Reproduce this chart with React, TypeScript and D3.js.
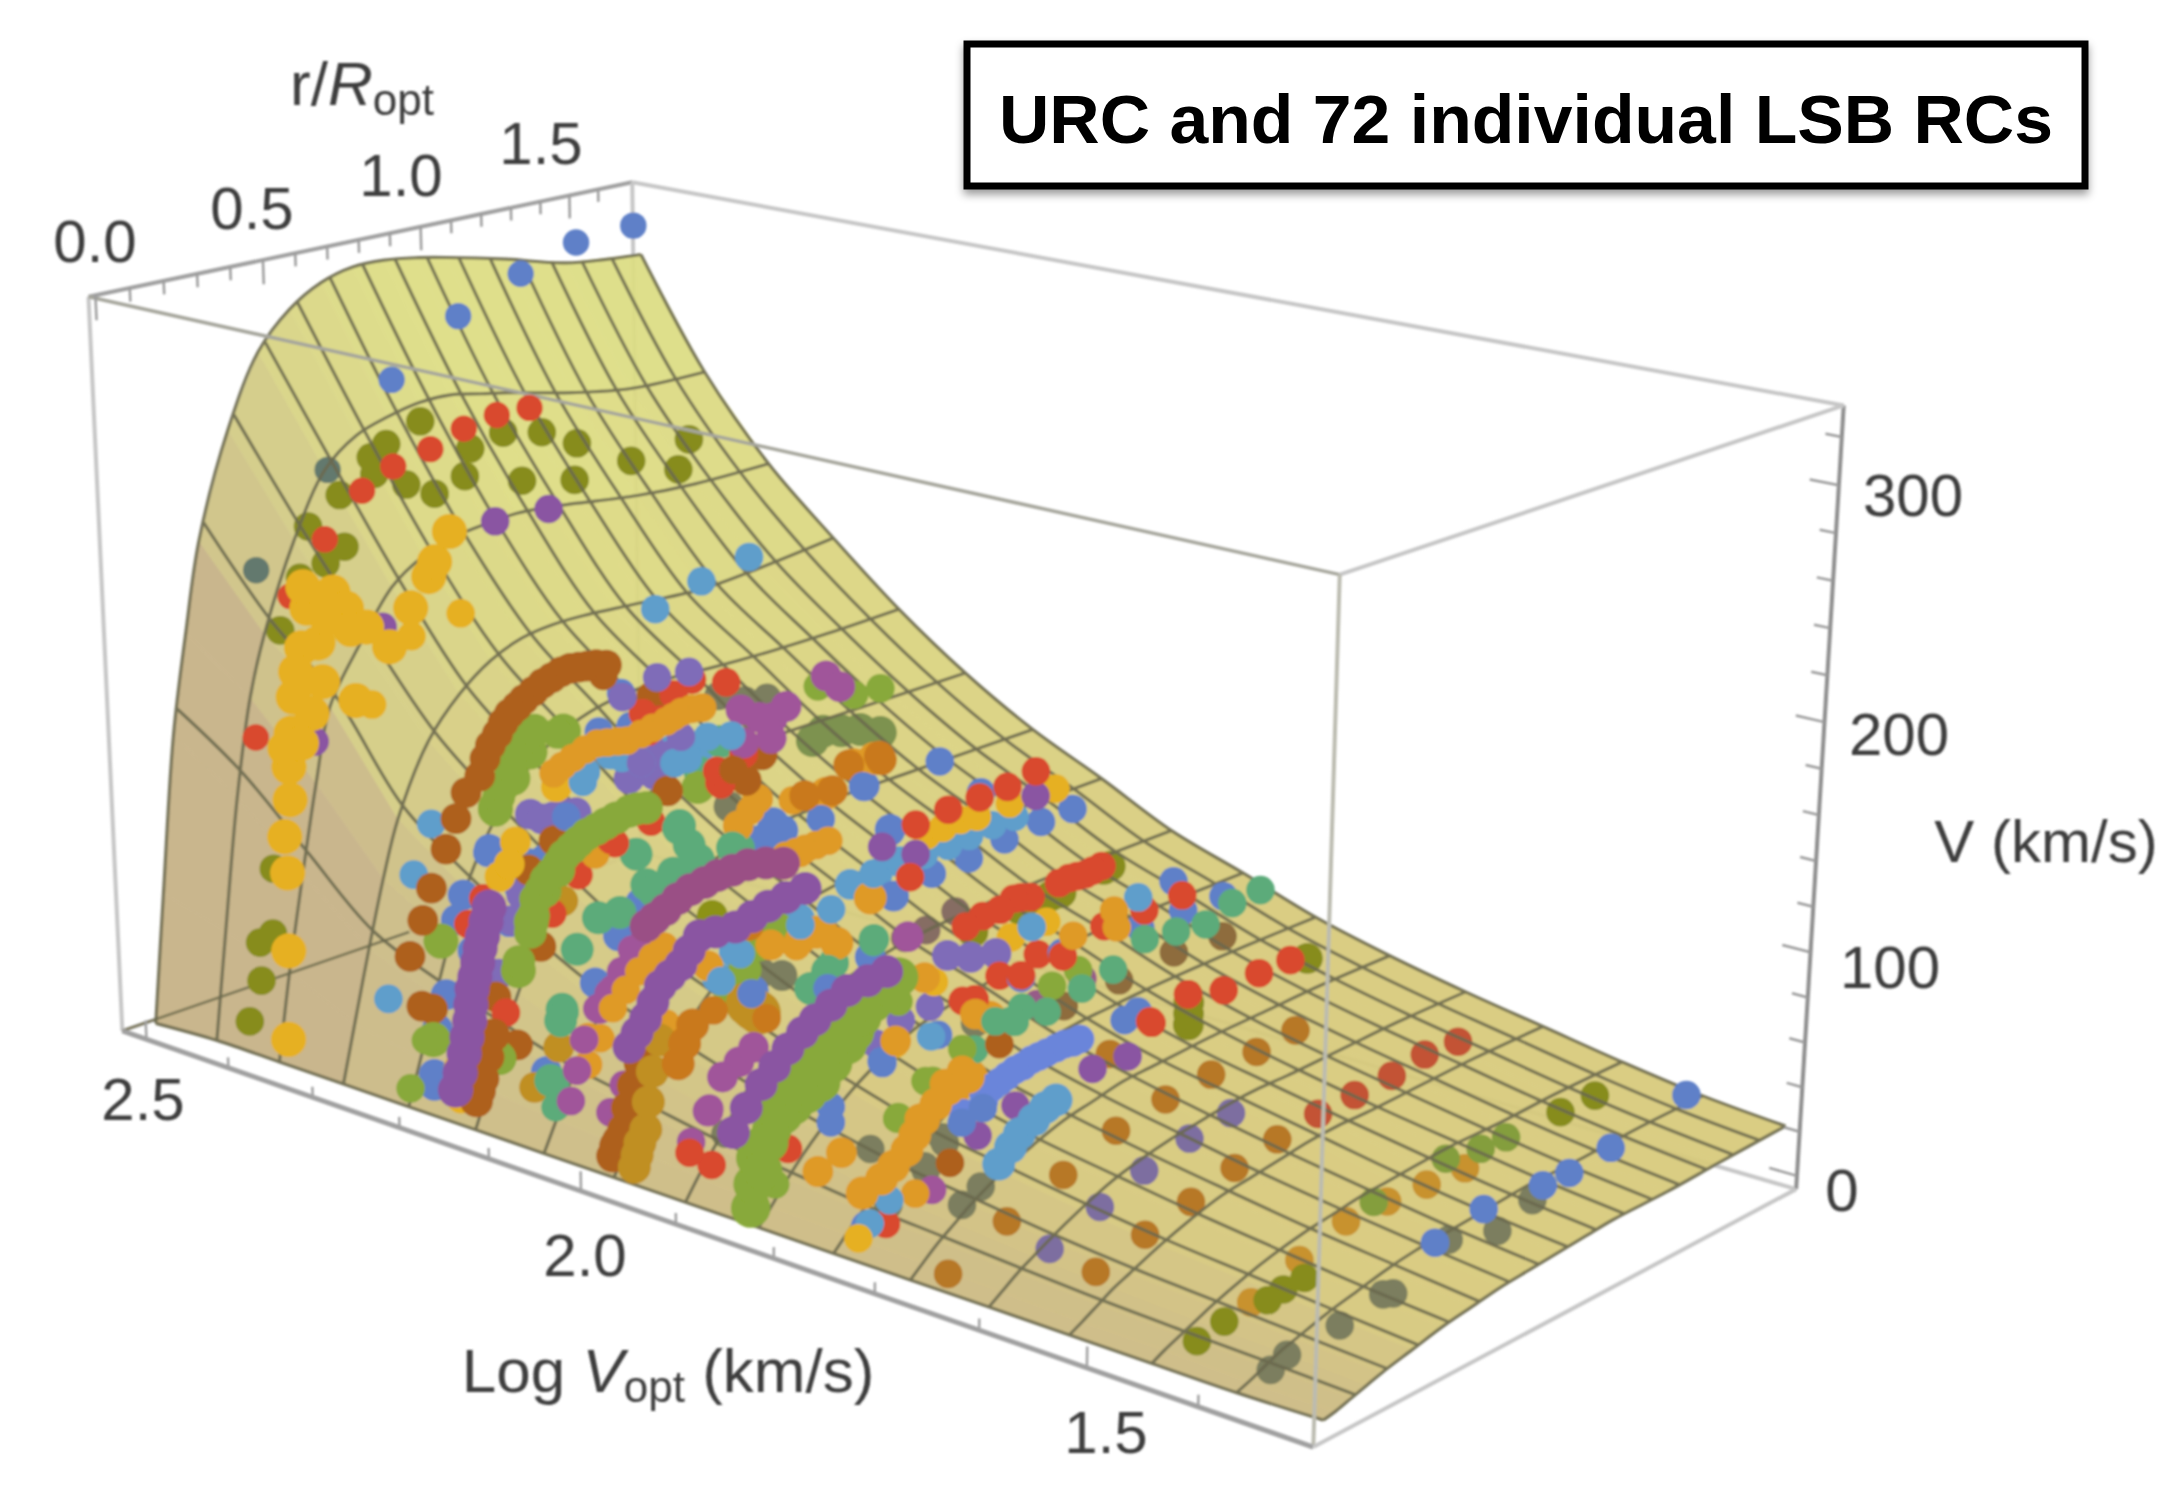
import React from "react";
import * as d3 from "d3";

const corners = [
  [0, 0, 1, 88, 299], [0, 1, 1, 633, 181], [1, 0, 1, 1339, 573], [1, 1, 1, 1844, 406],
  [0, 0, 0, 122, 1030], [1, 0, 0, 1315, 1447], [1, 1, 0, 1795, 1190],
];
function solve(A: number[][], b: number[]) {
  const n = b.length; const M = A.map((r, i) => [...r, b[i]]);
  for (let i = 0; i < n; i++) {
    let p = i; for (let j = i + 1; j < n; j++) if (Math.abs(M[j][i]) > Math.abs(M[p][i])) p = j;
    [M[i], M[p]] = [M[p], M[i]];
    for (let j = 0; j < n; j++) if (j !== i) { const f = M[j][i] / M[i][i]; for (let k = i; k <= n; k++) M[j][k] -= f * M[i][k]; }
  }
  return M.map((r, i) => r[n] / r[i]);
}
function fit() {
  const rows: number[][] = [], rhs: number[] = [];
  corners.forEach(([X, Y, Z, u0, v0]) => {
    const u = u0 / 1000, v = v0 / 1000;
    rows.push([X, Y, Z, 1, 0, 0, 0, 0, -u * X, -u * Y, -u * Z]); rhs.push(u);
    rows.push([0, 0, 0, 0, X, Y, Z, 1, -v * X, -v * Y, -v * Z]); rhs.push(v);
  });
  const N = 11; const A = d3.range(N).map(i => d3.range(N).map(j => d3.sum(rows, r => r[i] * r[j])));
  const b = d3.range(N).map(i => d3.sum(rows, (r, k) => r[i] * rhs[k]));
  return solve(A, b);
}
const P = fit();
const xS = d3.scaleLinear().domain([2.53, 1.30]).range([0, 1]);
const yS = d3.scaleLinear().domain([-0.02, 1.72]).range([0, 1]);
const zS = d3.scaleLinear().domain([-6, 333]).range([0, 1]);
function proj(l: number, r: number, V: number): [number, number] {
  const X = xS(l), Y = yS(r), Z = zS(V);
  const w = P[8] * X + P[9] * Y + P[10] * Z + 1;
  return [1000 * (P[0] * X + P[1] * Y + P[2] * Z + P[3]) / w, 1000 * (P[4] * X + P[5] * Y + P[6] * Z + P[7]) / w];
}
const calA = d3.scaleLinear().domain([1.375, 1.7, 1.75, 1.85, 2.0, 2.1, 2.17, 2.23, 2.35, 2.46]).range([0.035, 0.05, 0.06, 0.08, 0.2, 0.2, 0.15, 0.11, 0.02, 0.005]);
const calB = d3.scaleLinear().domain([1.375, 1.7, 1.75, 1.85, 2.0, 2.1, 2.17, 2.23, 2.35, 2.46]).range([6, 7, 9, 12, 0, 0, 5, 10, 0, 10]);

const surfLogV = [2.5, 2.425, 2.35, 2.275, 2.2, 2.125, 2.05, 1.975, 1.9, 1.825, 1.75, 1.675, 1.6, 1.525, 1.45, 1.375, 1.3];
const surfR = [0.01, 0.05, 0.1, 0.15, 0.2, 0.3, 0.4, 0.5, 0.6, 0.7, 0.8, 0.9, 1.0, 1.2, 1.4, 1.66];
const surfV = [
  [0, 60, 132, 178, 218, 265, 297, 313, 322, 326, 326, 324, 321, 314, 306, 302],
  [2, 52, 112, 156, 183, 222, 250, 262, 267, 270, 270, 267, 264, 257, 252, 251],
  [2, 42, 85, 125, 158, 183, 204, 214, 219, 221, 222, 221, 219, 215, 213, 213],
  [2, 28, 60, 90, 115, 146, 163, 174, 180, 182, 182, 181, 180, 178, 180, 184],
  [2, 22, 48, 72, 92, 120, 137, 148, 154, 157, 158, 158, 157, 156, 156, 157],
  [2, 18, 39, 57, 73, 98, 113, 123, 128, 132, 133, 134, 134, 134, 134, 134],
  [2, 15, 31, 45, 58, 79, 93, 103, 108, 111, 113, 114, 115, 115, 115, 115],
  [2, 13, 26, 38, 49, 66, 79, 87, 92, 95, 97, 98, 99, 100, 100, 100],
  [2, 11, 21, 31, 40, 54, 65, 72, 76, 79, 81, 82, 83, 84, 84, 84],
  [2, 9, 18, 26, 33, 45, 54, 61, 65, 68, 70, 71, 72, 73, 73, 73],
  [2, 8, 15, 21, 27, 36, 44, 49, 53, 56, 58, 59, 60, 61, 61.5, 61.5],
  [2, 7, 13, 18, 23, 31, 37, 42, 45, 48, 49, 50, 51, 52, 53, 53],
  [2, 6, 11, 15, 19, 26, 32, 36, 39, 41, 43, 44, 44, 45, 46, 46],
  [2, 5, 9, 13, 16, 22, 27, 31, 33, 35, 37, 38, 38, 39, 40, 40],
  [2, 5, 8, 11, 14, 19, 23, 26, 28, 30, 31, 32, 33, 33, 34, 34],
  [2, 4, 7, 10, 12, 16, 19, 22, 24, 25, 26, 27, 28, 28, 29, 29],
  [3, 4, 6, 8, 10, 13, 16, 18, 20, 21, 22, 23, 24, 24, 25, 26],
];

const BLUE = "#5f80c8", PERI = "#6a85da", SKY = "#5e9ecb", ORANGE = "#df9a26", GREEN = "#88a93a", RED = "#d9482e", DKOR = "#c9791c", YELLOW = "#e6b020", PURPLE = "#8a55a2", RASP = "#9a5085", MAGENTA = "#a0559a", VIOLET = "#7f6cb8", TEAL = "#5bab7a", OLIVE = "#8c9212", BROWN = "#ae601c", GREY = "#7c8064", MUSTARD = "#c08f24";

const topBlueR = [0.27, 0.5, 0.71, 0.93, 1.14, 1.33, 1.53], topBlueV = [203, 238, 270, 290, 301, 308, 308];
const oliveLowR = [0.05, 0.09, 0.09, 0.13, 0.14, 0.185, 0.25, 0.33, 0.28, 0.39, 0.38, 0.48, 0.49, 0.53, 0.59, 0.68, 0.64], oliveLowV = [12, 29, 47, 49, 79, 187, 208, 211, 230, 216, 240, 253, 245, 257, 236, 228, 263];
const oliveHighR = [0.8, 0.78, 0.91, 1.04, 1.16, 0.97, 1.15, 1.35, 1.56, 1.52], oliveHighV = [244, 232, 247, 242, 232, 222, 215, 216, 218, 205];
const redTopR = [0.1, 0.22, 0.33, 0.45, 0.55, 0.67, 0.78, 0.89, 1.0], redTopV = [142, 201, 222, 239, 246, 249, 254, 256, 255];
const goldR = [0.04, 0.05, 0.055, 0.05, 0.07, 0.07, 0.06, 0.08, 0.09, 0.12, 0.14, 0.22, 0.32, 0.39, 0.46, 0.52, 0.54, 0.59, 0.28, 0.17, 0.2, 0.18, 0.145, 0.11, 0.26, 0.27, 0.13, 0.1];
const goldV = [11, 52, 88, 105, 121, 136, 145, 151, 167, 188, 205, 209, 189, 177, 192, 204, 210, 222, 157, 188, 198, 170, 157, 145, 200, 190, 215, 178];
const goldDimR = [0.62, 0.46, 0.33], goldDimV = [183, 179, 153];
const purpleTopR = [0.92, 0.74, 0.37, 0.15], purpleTopV = [220, 221, 187, 144];
const skyTopR = [0.93, 1.14, 1.38], skyTopV = [185, 190, 193];
const skyLowR = [0.09, 0.18, 0.24], skyLowV = [40, 92, 112];
const brownR = [0.14, 0.107, 0.15, 0.18, 0.23, 0.265, 0.3, 0.347, 0.366, 0.385, 0.41, 0.43, 0.453, 0.48, 0.505, 0.54, 0.573, 0.607, 0.641, 0.675, 0.708, 0.74, 0.776, 0.816];
const brownV = [36, 61, 75, 88, 103, 115, 125, 130, 137, 142, 146, 150, 153, 155, 157, 159, 161, 162, 163, 163, 162, 161, 160, 158];

const tealLeftR = [0.5, 0.44, 0.434, 0.394], tealLeftV = [52, 27, 22, -4];
const greenLeftR = [0.463, 0.343, 0.283, 0.223, 0.433, 0.383, 0.336, 0.288, 0.041, 0.212, 0.01], greenLeftV = [154, 150, 141, 130, 92, 85, 73, 53, 80, 17, 37];
const blueLeftR = [0.2, 0.113, 0.09, 0.053, 0.023, 0.01, 0.01, 0.379, 0.14, 0.17, 0.3, 0.33], blueLeftV = [113, 97, 87, 55, 41, 21, 16, 1, 70, 60, 90, 100];
const violetLeftR = [0.472, 0.505, 0.34, 0.305, 0.269, 0.22, 0.38, 0.42], violetLeftV = [116, 115, 122, 87, 77, 55, 118, 117];
const brownLeftR = [0.531, 0.422, 0.331, 0.368, 0.28, 0.211, 0.01], brownLeftV = [137, 106, 97, 60, 19, 45, 51];
const mustardLeftR = [0.45, 0.336, 0.425], mustardLeftV = [77, -4, 10];
const yellowLeftR = [0.434, 0.287, 0.233, 0.265, 0.112, 0.086], yellowLeftV = [130, 112, 99, 103, 30, 19];
const redLeftR = [0.51, 0.411, 0.243, 0.177, 0.127], redLeftV = [86, 73, 36, 92, 83];
const orangeLeftR = [0.537, 0.584, 0.534], orangeLeftV = [9, 6, -4];

const sky2R = [0.092, 0.15, 0.013, 0.286, 0.34, 0.408, 0.524, 0.456, 0.816], sky2V = [181, 179, 177, 174, 175, 172, 75, 66, 79];
const sky185R = [0.39, 0.483, 0.562], sky185V = [124, 123, 124];
const violet2R = [0.217, 0.234, 0.15, 0.28], violet2V = [179, 166, 168, 172];
const blue2R = [0.109, 0.183, 0.034, 0.694, 0.67, 0.578, 0.738, 0.602], blue2V = [101, 112, 84, 127, 122, 124, 122, 54];
const blue185bR = [0.459, 0.541, 0.528, 0.438], blue185bV = [88, 110, 140, 164];
const teal2bR = [0.476, 0.398, 0.32, 0.354, 0.388, 0.17, 0.296, 0.204, 0.228, 0.115, 0.047, 0.544], teal2bV = [171, 160, 140, 130, 122, 134, 120, 119, 115, 111, 112, 121];
const teal185R = [0.472, 0.334], teal185V = [95, 93];
const green2R = [0.626, 0.568, 0.714, 0.507, 0.388], green2V = [74, 65, 78, 56, 154];
const green185R = [0.403, 0.493, 0.283], green185V = [205, 203, 215];
const orange2R = [0.42, 0.626, 0.544, 0.68, 0.816], orange2V = [73, 140, 131, 72, 69];
const orange185R = [0.472, 0.403, 0.31, 0.459, 0.345, 0.276], orange185V = [174, 175, 168, 114, 101, 110];
const brown2R = [0.578, 0.279, 0.646, 0.585, 0.228], brown2V = [150, 157, 159, 85, 200];
const mustard2R = [0.626, 0.578, 0.6], mustard2V = [43, 49, 46];
const red2R = [0.255, 0.37, 0.476, 0.568, 0.102, 0.221], red2V = [189, 202, 152, 162, 142, 146];
const magenta2R = [0.558, 0.694, 0.636, 0.687, 0.568, 0.755, 0.187, 0.143, 0.092, 0.047, 0.415, 0.473, 0.54, 0.602], magenta2V = [182, 174, 176, 165, 167, 177, 93, 85, 78, 72, 7, 20, 24, 28];
const magenta185R = [0.31, 0.355, 0.593], magenta185V = [218, 211, 89];
const grey2R = [0.636, 0.731, 0.507], grey2V = [61, 56, 141];
const olive2R = [0.438], olive2V = [95];

const orange175R = [0.406, 0.459, 0.353, 0.523], orange175V = [48, 50, 48, 72];
const green175R = [0.329, 0.212], green175V = [56, 47];
const teal175R = [0.47, 0.594], teal175V = [61, 66];
const brown175R = [0.558, 0.389], brown175V = [58, 16];
const peri175R = [0.505, 0.435], peri175V = [36, 35];
const purple175R = [0.618, 0.484], purple175V = [27, 22];
const violet175R = [0.318, 0.223, 0.141], violet175V = [89, 89, 84];
const blue175R = [0.346], blue175V = [75];
const yellow175R = [0.205], yellow175V = [80];
const red175R = [0.47], red175V = [83];
const grey175R = [0.371, 0.307, 0.184], grey175V = [26, 18, 11];

const blueLeft0R = [0.28, 0.35, 0.474, 0.39], blueLeft0V = [103, 67, 90, 90];
const teal1R = [0.316, 0.52, 0.96, 0.87], teal1V = [139, 122, 50, 45];
const teal2R = [0.38, 0.325, 0.287, 0.287], teal2V = [64, 38, 6, -4];
const magentaLowR = [0.394, 0.366, 0.342, 0.445, 0.49, 0.54, 0.585], magentaLowV = [22, 9, -4, 34, 39, 47, 55];
const magentaMidR = [0.119, 0.075, 0.42, 0.47, 0.35], magentaMidV = [34, 24, 8, 20, -4];
const orangeFillR = [0.8, 0.265, 0.595, 0.785, 0.82, 0.94, 0.04], orangeFillV = [67, 54, 136, 134, 109, 69, 140];
const orangeUpR = [0.21, 0.24, 0.277, 0.32, 0.363, 0.4, 0.44, 0.476, 0.53, 0.58, 0.637, 0.67, 0.705, 0.75, 0.8], orangeUpV = [156, 158, 160, 162, 163, 162, 161, 160, 161, 162, 163, 164, 165, 165, 164];
const dkFillR = [0.585, 0.66, 0.44], dkFillV = [84, 39, 52];
const skyMidR = [0.98, 0.82, 0.55, 0.47], skyMidV = [78, 76, 73, 64];
const skyUpR = [0.31, 0.455, 0.53, 0.67, 0.73, 0.825, 0.945], skyUpV = [148, 153, 148, 143, 143, 150, 147];
const blueUpR = [0.37, 0.49, 0.455, 0.25], blueUpV = [168, 166, 182, 135];
const blueMidR = [0.925, 0.595, 0.96], blueMidV = [121, 53, 42];
const blue185R = [0.5, 0.324, 0.324], blue185V = [39, 30, 23];
const greenUpR = [0.225, 0.1], greenUpV = [173, 175];
const g1R = [0.22, 0.235, 0.25, 0.275, 0.3, 0.33, 0.36, 0.29, 0.22], g1V = [131, 135, 139, 147, 154, 157, 159, 57, 16];
const redMidR = [0.47, 0.09], redMidV = [153, 144];
const redUpR = [0.56, 0.54, 0.67, 0.87, 0.92], redUpV = [161, 170, 174, 133, 172];
const violetUpR = [0.6, 0.74, 0.46, 0.7, 0.53], violetUpV = [184, 182, 180, 154, 148];
const mutedGreenR = [0.424, 0.3, 0.493, 0.265, 0.36], mutedGreenV = [189, 195, 184, 193, 192];
const darkGreyR = [0.88, 1.02, 1.15], darkGreyV = [167, 161, 159];
const brownUpR = [0.39, 0.955], brownUpV = [192, 131];
const dkUp185R = [0.49, 0.385, 0.497, 0.24, 0.33], dkUp185V = [174, 176, 172, 171, 168];
const blueUp185R = [0.434, 0.707], blueUp185V = [164, 160];
const redUpper185R = [0.62, 0.74, 0.86, 0.97, 1.086, 0.6], redUpper185V = [137, 137, 136, 135, 136, 115];
const blueArc185R = [0.53, 0.68, 0.82, 0.96, 1.11, 1.245, 0.865], blueArc185V = [139, 112, 111, 112, 112, 111, 138];
const purple185R = [0.5, 1.086, 0.62], purple185V = [134, 125, 124];
const skyBand185R = [0.47, 0.565, 0.65, 0.74, 0.82, 0.91, 1.0], skyBand185V = [124, 124, 122, 121, 121, 121, 120];
const yellowBand185R = [0.66, 0.72, 0.786, 0.85, 0.98, 1.17], yellowBand185V = [130, 130, 130, 128, 127, 124];
const redRowR = [1.38, 1.34, 1.307, 1.27, 1.234, 1.19, 1.07, 1.03, 1.0, 0.945, 0.876, 0.81], redRowV = [78, 78, 78, 79, 80, 80, 80, 82, 83, 81, 82, 81];
const oliveRowR = [1.42, 1.39, 1.2, 1.155, 1.11, 1.024, 0.838], oliveRowV = [76, 76, 75, 76, 75, 77, 77];
const greyMagentaR = [0.77, 0.583, 0.66], greyMagentaV = [90, 89, 88];
const yellowLowR = [1.138, 0.99, 0.69], yellowLowV = [65, 66, 63];
const purpleRowR = [0.74, 0.83, 0.93], purpleRowV = [72, 66, 62];
const redLow185R = [1.103, 0.945, 0.8], redLow185V = [52, 51, 48];
const blueLow185R = [1.207, 1.034, 0.503], blueLow185V = [47, 45, 38];
const greenLow185R = [1.28, 1.166, 0.8, 0.56, 0.56, 0.66, 0.14], greenLow185V = [35, 34, 26, 62, 10, 20, 8];
const orangeLow185R = [0.85, 0.655, 0.734, 0.8, 0.64, 0.55, 0.28, 0.36], orangeLow185V = [39, 67, 14, 16, 4, 45, 4, 7];
const tealLow185R = [0.47, 0.93, 1.04], tealLow185V = [94, 31, 31];
const magentaLow185R = [1.103, 1.3], magentaLow185V = [29, 30];
const skyLow185R = [0.68, 1.076], skyLow185V = [39, 66];
const greyLow185R = [0.655, 0.29, 0.538, 0.476], greyLow185V = [54, 21, 10, 1];

const blue17R = [1.0, 1.2, 1.04, 0.876, 0.823, 0.873], blue17V = [113, 96, 98, 99, 61, 62];
const green17R = [1.237, 1.13, 1.014, 0.894, 0.777, 0.664, 0.54, 0.43], green17V = [91, 87, 90, 93, 86, 84, 81, 83];
const teal17R = [1.353], teal17V = [91];
const red17R = [1.035, 0.89, 0.742, 0.594, 0.45, 0.926], red17V = [105, 106, 107, 102, 102, 54];
const brownish17R = [1.2, 1.007, 0.8, 0.6], brownish17V = [78, 81, 80, 80];
const sky17R = [0.866], sky17V = [113];
const orange17R = [0.788, 0.777, 0.63], orange17V = [104, 112, 109];
const oliveCapR = [1.07, 1.07, 1.07, 1.565], oliveCapV = [55, 45, 50, 49];
const dk17R = [1.067, 0.77], dk17V = [59, 49];
const purple17R = [0.837, 0.707], purple17V = [44, 46];

const redArc17R = [0.92, 1.066, 1.21, 1.356, 1.49], redArc17V = [55, 59, 53, 53, 52];
const dkColR = [0.08, 0.27, 0.46, 0.645, 0.826, 1.0, 1.18, 1.34], dkColV = [2, 12, 20, 28, 31, 32, 32, 33];
const dkRedR = [0.18, 0.343, 0.5, 0.654, 0.81], dkRedV = [13, 18, 22, 27, 30];
const orRedR = [0.964, 1.107, 1.257, 1.393, 1.536], orRedV = [32, 32, 32, 34, 32];
const purpleDimR = [0.636, 0.49, 0.336, 0.19, 0.03], purpleDimV = [52, 50, 46, 40, 33];
const orange145R = [0.665, 0.817, 0.968, 1.119, 0.5, 0.335], orange145V = [18, 17, 15, 13, 12, 5];
const green145R = [0.766, 1.04, 1.18, 1.284], green145V = [20, 22, 18, 17];
const olive145R = [1.514, 1.665, 0.52, 0.446, 0.392, 0.245, 0.155], olive145V = [15, 14, 3, 3, 2, 3, 1];
const blue1375R = [0.683, 0.863, 1.094, 1.2, 1.37, 1.694], blue1375V = [19, 22, 18, 17, 18, 23];
const grey1375R = [0.734, 0.92, 1.054, 0.536, 0.35, 0.12, 0.173, 0.5], grey1375V = [17, 9, 14, 7, 6, 3.5, 6, 9];
const grey17R = [0.32, 0.258], grey17V = [18, 14];
const low17R = [0.16], low17V = [27];
const orange17bR = [0.106], orange17bV = [29];
const red17bR = [0.014], red17bV = [22];
const blueBottomR = [0.11], blueBottomV = [7];
const skyBottomR = [0.187, 0.124], skyBottomV = [13, 7];
const yellowBottomR = [0.088], yellowBottomV = [3];
const mixed19R = [0.093, 0.024, 0.348], mixed19V = [13, 23, 4];
const grey19R = [0.138], grey19V = [24];
const green22R = [0.017, 0.068], green22V = [10, 29];
const blue22R = [0.105], blue22V = [8];
const yellow22R = [0.175, 0.19, 0.185], yellow22V = [-5, 22, 8];
const purple22R = [0.235, 0.2], purple22V = [-6, 3];

const p1R = [0.074, 0.09, 0.104, 0.114, 0.124, 0.129, 0.134, 0.144, 0.154, 0.163, 0.172, 0.184, 0.195], p1V = [10, 17, 25, 32, 39, 46, 53, 58, 64, 70, 75, 81, 87];
const brownStubR = [0.14, 0.15, 0.162, 0.18, 0.2], brownStubV = [1, 5, 10, 19, 28];
const g2R = [0.124, 0.135, 0.143, 0.16, 0.178, 0.197, 0.22, 0.24, 0.266, 0.29, 0.32, 0.357, 0.39, 0.43, 0.48, 0.51, 0.549], g2V = [89, 96, 103, 106, 110, 112, 115, 118, 120, 122, 124, 125, 126, 127, 128, 128, 127];
const p3R = [0.2, 0.23, 0.267, 0.31, 0.356, 0.41, 0.46, 0.52, 0.583, 0.66, 0.74], p3V = [101, 103, 105, 108, 110, 111, 112, 112, 112, 110, 107];
const p2R = [0.138, 0.165, 0.194, 0.22, 0.246, 0.28, 0.319, 0.35, 0.388, 0.45, 0.529, 0.6, 0.669, 0.75, 0.844], p2V = [50, 55, 60, 66, 72, 75, 78, 83, 88, 87, 86, 88, 90, 91, 92];
const orange2aR = [0.088, 0.13, 0.175, 0.22, 0.26], orange2aV = [70, 76, 82, 86, 89];
const orange2bR = [0.75, 0.8, 0.845, 0.9, 0.965], orange2bV = [110, 110, 110, 110, 110];
const brownColR = [0.08, 0.09, 0.1, 0.117, 0.13, 0.15, 0.174], brownColV = [4, 8, 10, 14, 23, 32, 41];
const orangeColR = [0.15, 0.16, 0.17, 0.19, 0.2, 0.215, 0.24], orangeColV = [-5, 0, 5, 10, 22, 35, 48];
const orangeCol2R = [0.306, 0.33, 0.36], orangeCol2V = [34, 42, 49];
const g3R = [0.062, 0.07, 0.079, 0.1, 0.13, 0.166, 0.2, 0.245, 0.29, 0.33, 0.38, 0.405, 0.43], g3V = [3, 13, 24, 28, 33, 37, 39, 41, 43, 49, 54, 58, 63];
const g3bR = [0.1, 0.12, 0.15, 0.2, 0.25, 0.3, 0.36, 0.42, 0.47, 0.53, 0.56], g3bV = [17, 28, 40, 47, 52, 57, 60, 64, 67, 70, 73];
const p4R = [0.01, 0.05, 0.097, 0.14, 0.183, 0.23, 0.272, 0.325, 0.38, 0.45, 0.517], p4V = [40, 48, 55, 60, 65, 69, 72, 75, 78, 78, 78];
const periR = [0.327, 0.355, 0.38, 0.405, 0.433, 0.46, 0.49, 0.515, 0.543, 0.575, 0.605, 0.635, 0.66], periV = [58, 59, 60, 61, 62, 62, 63, 63, 63, 63, 63, 62, 62];
const orangeLowR = [0.1, 0.162, 0.2, 0.244, 0.27, 0.3, 0.34, 0.38, 0.45], orangeLowV = [22, 24, 27, 31, 36, 41, 45, 49, 50];
const skyLow17R = [0.38, 0.42, 0.45, 0.5, 0.54, 0.577], skyLow17V = [24, 29, 33, 36, 39, 40];
const blueLow17R = [0.255, 0.325], blueLow17V = [50, 52];

type G = [number, string, boolean, number[], number[], number?];
const galaxies: G[] = [
  [2.46, BLUE, false, topBlueR.slice(2), topBlueV.slice(2), 12], [2.46, "#5d7a78", true, topBlueR.slice(0, 2), topBlueV.slice(0, 2), 12],
  [2.35, YELLOW, false, goldDimR, goldDimV], [2.4, OLIVE, true, oliveLowR, oliveLowV, 13], [2.4, OLIVE, true, oliveHighR, oliveHighV, 13],
  [2.4, RED, false, redTopR, redTopV, 12], [2.35, PURPLE, false, purpleTopR, purpleTopV], [2.35, YELLOW, false, goldR, goldV, 16],
  [2.2, SKY, false, skyTopR, skyTopV, 13], [2.25, SKY, false, skyLowR, skyLowV, 13],
  [2.2, BLUE, false, blueLeft0R, blueLeft0V], [2.17, BLUE, false, blueLeftR, blueLeftV, 14], [2.17, VIOLET, false, violetLeftR, violetLeftV, 14], [2.17, BROWN, false, brownLeftR, brownLeftV, 14], [2.17, MUSTARD, false, mustardLeftR, mustardLeftV, 14], [2.17, RED, false, redLeftR, redLeftV], [2.17, TEAL, false, tealLeftR, tealLeftV, 15], [2.17, GREEN, false, greenLeftR, greenLeftV, 16], [2.17, YELLOW, false, yellowLeftR, yellowLeftV, 14], [2.17, ORANGE, false, orangeLeftR, orangeLeftV],
  [2.0, SKY, false, sky2R, sky2V, 14], [1.85, SKY, false, sky185R, sky185V, 14], [2.0, VIOLET, false, violet2R, violet2V, 14], [2.0, BLUE, false, blue2R, blue2V, 14], [1.85, BLUE, false, blue185bR, blue185bV, 14], [2.0, TEAL, false, teal2bR, teal2bV, 15], [1.85, TEAL, false, teal185R, teal185V, 14], [2.0, GREEN, false, green2R, green2V, 15], [1.85, GREEN, false, green185R, green185V, 13], [2.0, ORANGE, false, orange2R, orange2V, 14], [1.85, ORANGE, false, orange185R, orange185V, 15], [2.0, BROWN, false, brown2R, brown2V, 14], [2.0, MUSTARD, false, mustard2R, mustard2V, 20], [2.0, RED, false, red2R, red2V, 13], [2.0, MAGENTA, false, magenta2R, magenta2V, 14], [1.85, MAGENTA, false, magenta185R, magenta185V, 14], [2.0, GREY, true, grey2R, grey2V, 14], [2.0, OLIVE, false, olive2R, olive2V, 14],
  [1.75, ORANGE, false, orange175R, orange175V, 15], [1.75, GREEN, false, green175R, green175V], [1.75, TEAL, false, teal175R, teal175V], [1.75, BROWN, false, brown175R, brown175V], [1.75, PERI, false, peri175R, peri175V], [1.75, PURPLE, false, purple175R, purple175V], [1.75, VIOLET, false, violet175R, violet175V], [1.75, BLUE, false, blue175R, blue175V], [1.75, YELLOW, false, yellow175R, yellow175V], [1.75, RED, false, red175R, red175V], [1.75, GREY, true, grey175R, grey175V],
  [2.0, TEAL, false, teal1R, teal1V, 15], [2.13, TEAL, false, teal2R, teal2V], [2.13, MAGENTA, false, magentaLowR, magentaLowV], [2.0, MAGENTA, false, magentaMidR, magentaMidV],
  [2.0, ORANGE, false, orangeFillR, orangeFillV], [2.0, DKOR, false, dkFillR, dkFillV], [2.0, SKY, false, skyMidR, skyMidV], [2.1, SKY, false, skyUpR, skyUpV], [2.1, BLUE, false, blueUpR, blueUpV], [2.0, BLUE, false, blueMidR, blueMidV], [1.85, BLUE, false, blue185R, blue185V],
  [2.1, GREEN, false, greenUpR, greenUpV, 14], [2.17, GREEN, false, g1R, g1V, 15], [2.0, RED, false, redMidR, redMidV], [2.1, RED, false, redUpR, redUpV],
  [2.1, VIOLET, false, violetUpR, violetUpV], [2.1, ORANGE, false, orangeUpR, orangeUpV, 13],
  [1.85, "#7f9a50", true, mutedGreenR, mutedGreenV, 15], [2.1, GREY, true, darkGreyR, darkGreyV], [2.1, BROWN, false, brownUpR, brownUpV], [1.85, DKOR, false, dkUp185R, dkUp185V, 14], [1.85, BLUE, false, blueUp185R, blueUp185V],
  [1.85, BLUE, false, blueArc185R, blueArc185V], [1.85, SKY, false, skyBand185R, skyBand185V, 13], [1.85, YELLOW, false, yellowBand185R, yellowBand185V], [1.85, PURPLE, false, purple185R, purple185V], [1.85, RED, false, redUpper185R, redUpper185V],
  [1.85, RED, false, redRowR, redRowV], [1.85, OLIVE, true, oliveRowR, oliveRowV, 14], [1.85, "#8a6a6a", true, greyMagentaR, greyMagentaV], [1.85, YELLOW, false, yellowLowR, yellowLowV], [1.85, VIOLET, false, purpleRowR, purpleRowV, 14], [1.85, RED, false, redLow185R, redLow185V], [1.85, BLUE, false, blueLow185R, blueLow185V], [1.85, GREEN, false, greenLow185R, greenLow185V], [1.85, ORANGE, false, orangeLow185R, orangeLow185V, 14], [1.85, TEAL, false, tealLow185R, tealLow185V], [1.85, MAGENTA, true, magentaLow185R, magentaLow185V], [1.85, SKY, false, skyLow185R, skyLow185V], [1.8, GREY, true, greyLow185R, greyLow185V],
  [1.7, BLUE, false, blue17R, blue17V], [1.7, TEAL, false, green17R, green17V], [1.7, TEAL, false, teal17R, teal17V], [1.7, RED, false, red17R, red17V], [1.7, "#94693a", true, brownish17R, brownish17V], [1.7, SKY, false, sky17R, sky17V], [1.7, ORANGE, false, orange17R, orange17V], [1.7, OLIVE, true, oliveCapR, oliveCapV, 14], [1.7, DKOR, true, dk17R, dk17V], [1.7, PURPLE, false, purple17R, purple17V],
  [1.7, RED, false, redArc17R, redArc17V], [1.66, DKOR, true, dkColR, dkColV], [1.55, DKOR, true, dkRedR, dkRedV], [1.55, RED, true, orRedR, orRedV], [1.55, VIOLET, true, purpleDimR, purpleDimV], [1.45, ORANGE, true, orange145R, orange145V], [1.45, GREEN, true, green145R, green145V], [1.45, OLIVE, true, olive145R, olive145V], [1.375, BLUE, false, blue1375R, blue1375V], [1.375, GREY, true, grey1375R, grey1375V], [1.7, GREY, true, grey17R, grey17V], [1.7, MAGENTA, false, low17R, low17V], [1.7, ORANGE, false, orange17bR, orange17bV], [1.7, RED, false, red17bR, red17bV], [1.75, BLUE, false, blueBottomR, blueBottomV], [1.75, SKY, false, skyBottomR, skyBottomV], [1.75, YELLOW, false, yellowBottomR, yellowBottomV],
  [1.9, RED, false, mixed19R, mixed19V], [1.9, GREY, true, grey19R, grey19V], [2.2, GREEN, false, green22R, green22V], [2.2, BLUE, false, blue22R, blue22V], [2.2, YELLOW, false, yellow22R, yellow22V], [2.2, PURPLE, false, purple22R, purple22V],
  [2.23, BROWN, false, brownR, brownV, 14], [2.0, ORANGE, false, orange2aR, orange2aV, 13], [2.0, ORANGE, false, orange2bR, orange2bV, 13], [2.0, BROWN, false, brownColR, brownColV, 15], [2.0, MUSTARD, false, orangeColR, orangeColV, 15], [2.0, DKOR, false, orangeCol2R, orangeCol2V, 15],
  [2.1, GREEN, false, g2R, g2V, 15], [2.0, PURPLE, false, p2R, p2V, 15], [2.0, RASP, false, p3R, p3V, 15], [2.17, BROWN, false, brownStubR, brownStubV, 15], [2.17, PURPLE, false, p1R, p1V, 16],
  [1.85, GREEN, false, g3R, g3V, 18], [1.85, GREEN, false, g3bR, g3bV, 18], [1.85, PURPLE, false, p4R, p4V, 15], [1.7, PERI, false, periR, periV, 13], [1.75, ORANGE, false, orangeLowR, orangeLowV, 15], [1.7, SKY, false, skyLow17R, skyLow17V, 15], [1.7, BLUE, false, blueLow17R, blueLow17V, 13],
];

const rowAtR = (i: number, r: number) => {
  const a = surfV[i]; const j = Math.min(d3.bisectRight(surfR, r) - 1, surfR.length - 2);
  const t = (r - surfR[j]) / (surfR[j + 1] - surfR[j]); return a[j] + t * (a[j + 1] - a[j]);
};
const meshR = d3.range(17).map(k => 0.01 + k * 1.65 / 16);
const rTicks = d3.range(0, 17).map(d => d / 10), lTicks = d3.range(14, 26).map(d => d / 10), vTicks = d3.range(0, 331, 20);
const line = d3.line().curve(d3.curveCatmullRom);
const tan = "#c6b286";

export default function App() {
  const quads: any[] = [];
  for (let i = 0; i < 16; i++) for (let j = 0; j < 15; j++) {
    const pts = [proj(surfLogV[i], surfR[j], surfV[i][j]), proj(surfLogV[i], surfR[j + 1], surfV[i][j + 1]), proj(surfLogV[i + 1], surfR[j + 1], surfV[i + 1][j + 1]), proj(surfLogV[i + 1], surfR[j], surfV[i + 1][j])];
    const slope = (surfV[i][j + 1] - surfV[i][j]) / (surfR[j + 1] - surfR[j]);
    const t = Math.min(1, Math.max(slope / 800, (0.35 - surfR[j]) / 0.35 * 0.7));
    const base = d3.interpolateRgb("#dcdc84", "#d8ca7c")(Math.min(1, i / 9));
    const c = d3.interpolateRgb(base, tan)(t);
    quads.push(<polygon key={i + "-" + j} points={pts.join(" ")} fill={c} stroke={c} strokeWidth={1} />);
  }
  const bl = (a: [number, number, number], b: [number, number, number], w = 4, c = "#c6c6c6") => {
    const p = proj(...a), q = proj(...b);
    return <line x1={p[0]} y1={p[1]} x2={q[0]} y2={q[1]} stroke={c} strokeWidth={w} />;
  };
  const L0 = 2.53, L1 = 1.3, R0 = -0.02, R1 = 1.72, V0 = -6, V1 = 333;
  const dots = (under: boolean) => galaxies.filter(g => g[2] === under).map((g, gi) => {
    const col = under ? d3.interpolateRgb(g[1], "#77764a")(0.22) : g[1];
    const a = calA(g[0]), b = calB(g[0]);
    return <g key={gi} fill={col}>{g[3].map((r, i) => { const p = proj(g[0], r * (1 - a * r), g[4][i] + b * r); return <circle key={i} cx={p[0]} cy={p[1]} r={(g[5] ?? 13) * 1.1} />; })}</g>;
  });
  const txt = { fontFamily: "Liberation Sans", fontSize: 60, fill: "#3c3c3c" };
  return (
    <svg width={2182} height={1510} style={{ position: "absolute", left: 0, top: 0, background: "#fff" }}>
      <defs>
        <filter id="b" x="-5%" y="-5%" width="110%" height="110%"><feGaussianBlur stdDeviation={1.3} /></filter>
        <filter id="sh" x="-5%" y="-20%" width="110%" height="150%"><feDropShadow dx={0} dy={5} stdDeviation={4} floodColor="#000" floodOpacity={0.4} /></filter>
      </defs>
      <g filter="url(#b)">
        {bl([L0, R0, V1], [L0, R1, V1], 4, "#a0a0a0")}
        {bl([L0, R1, V1], [L1, R1, V1])}
        {bl([L0, R1, V1], [L0, R1, V0])}
        {bl([L0, R1, V0], [L1, R1, V0])}
        {bl([L0, R0, V0], [L0, R1, V0])}
        {bl([L0, R0, V1], [L0, R0, V0])}
        {bl([L1, R1, V1], [L1, R1, V0], 4, "#8e8e8e")}
        <g opacity={0.94}>{quads}</g>
        {bl([L0, R0, V0], [L0, 0.9, V0], 2.6, "#7a7656")}
        {dots(true)}
        <g fill="none" stroke="#6b694e" strokeWidth={3.2} opacity={0.9}>
          {surfLogV.map((l, i) => <path key={i} d={line(surfR.map((r, j) => proj(l, r, surfV[i][j])))!} />)}
          {meshR.map((r, k) => <path key={k} d={line(surfLogV.map((l, i) => proj(l, r, rowAtR(i, r))))!} />)}
        </g>
        {bl([L0, R0, V1], [L1, R0, V1], 3.5, "#a6a69c")}
        {dots(false)}
        {bl([L1, R0, V1], [L1, R1, V1])}
        {bl([L1, R0, V1], [L1, R0, V0], 4, "#bcbcb0")}
        {bl([L0, R0, V0], [L1, R0, V0], 5, "#a0a0a0")}
        {bl([L1, R0, V0], [L1, R1, V0])}
        {rTicks.map((r, i) => { const big = i % 5 === 0; const p = proj(L0, r, V1), q = proj(L0, r, V1 - (big ? 11 : 6)); return <line key={i} x1={p[0]} y1={p[1]} x2={q[0]} y2={q[1]} stroke="#9c9c9c" strokeWidth={2.5} />; })}
        {lTicks.map((l, i) => { const big = i % 5 === 1; const p = proj(l, R0, V0), q = proj(l, R0, V0 + (big ? 9 : 5)); return <line key={i} x1={p[0]} y1={p[1]} x2={q[0]} y2={q[1]} stroke="#a0a0a0" strokeWidth={2.5} />; })}
        {vTicks.map((v, i) => { const big = i % 5 === 0; const p = proj(L1, R1, v), q = proj(L1 + (big ? 0.025 : 0.014), R1, v); return <line key={i} x1={p[0]} y1={p[1]} x2={q[0]} y2={q[1]} stroke="#9a9a9a" strokeWidth={2.5} />; })}
        <g style={txt as any} textAnchor="middle">
          <text x={95} y={262}>0.0</text><text x={252} y={229}>0.5</text><text x={401} y={196}>1.0</text><text x={541} y={164}>1.5</text>
          <text x={143} y={1120}>2.5</text><text x={585} y={1276}>2.0</text><text x={1106} y={1453}>1.5</text>
          <text x={1913} y={516}>300</text><text x={1899} y={755}>200</text><text x={1890} y={988}>100</text><text x={1842} y={1211}>0</text>
          <text x={362} y={105} fontSize={62}>r/<tspan fontStyle="italic">R</tspan><tspan fontSize={44} dy={10}>opt</tspan></text>
          <text x={668} y={1392} fontSize={62}>Log <tspan fontStyle="italic">V</tspan><tspan fontSize={44} dy={10}>opt</tspan><tspan dy={-10}> (km/s)</tspan></text>
          <text x={2046} y={862} fontSize={60}>V (km/s)</text>
        </g>
      </g>
      <rect x={967} y={44} width={1118} height={142} fill="#fff" stroke="#000" strokeWidth={7} filter="url(#sh)" />
      <text x={1526} y={143} fontFamily="Liberation Sans" fontWeight="bold" fontSize={68} textAnchor="middle" fill="#000" textLength={1054} lengthAdjust="spacingAndGlyphs">URC and 72 individual LSB RCs</text>
    </svg>
  );
}
